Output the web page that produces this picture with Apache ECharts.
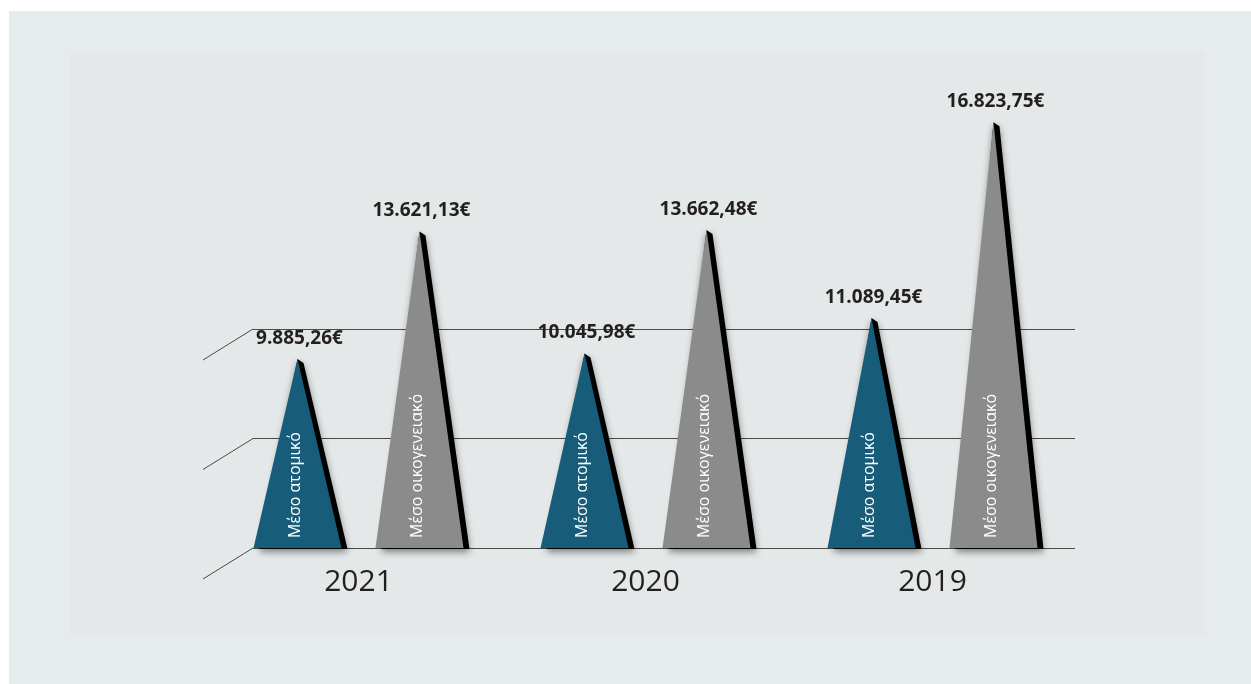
<!DOCTYPE html>
<html>
<head>
<meta charset="utf-8">
<script src="https://cdn.jsdelivr.net/npm/echarts@6/dist/echarts.min.js"></script>
<style>html,body{margin:0;padding:0;background:#fff;}#c{width:1251px;height:684px;}</style>
</head>
<body>
<div id="c"></div>
<script>
const years = ['2021', '2020', '2019'];
const individual = [9885.26, 10045.98, 11089.45];
const family = [13621.13, 13662.48, 16823.75];
const seriesNames = ['Μέσο ατομικό', 'Μέσο οικογενειακό'];
const gridLevels = [0, 1, 2];

const Y_MIN = 4350, Y_MAX = 18000;

function fmt(v) {
  const parts = v.toFixed(2).split('.');
  parts[0] = parts[0].replace(/\B(?=(\d{3})+(?!\d))/g, '.');
  return parts[0] + ',' + parts[1] + '€';
}

function makeRender(offsetFrac, color, name) {
  return function (params, api) {
    const ci = api.value(0), v = api.value(1);
    const band = api.size([1, 0])[0];
    const top = api.coord([ci, v]);
    const base = api.coord([ci, Y_MIN]);
    const ax = top[0] + offsetFrac * band, ay = top[1], by = base[1];
    const hw = 44;
    return {
      type: 'group',
      children: [
        { type: 'polygon', shape: { points: [[ax - hw + 6, by + 1], [ax, ay], [ax + 6, ay + 4], [ax + hw + 6, by + 1]] },
          style: { fill: '#000', shadowBlur: 7, shadowColor: 'rgba(0,0,0,0.45)', shadowOffsetY: 3 } },
        { type: 'polygon', shape: { points: [[ax - hw, by], [ax, ay], [ax + hw, by]] }, style: { fill: color } },
        { type: 'text', x: ax - 2, y: by - 10, rotation: Math.PI / 2,
          style: { text: name, fill: '#ffffff', font: '16px "Open Sans"', align: 'left', verticalAlign: 'middle', textAlign: 'left', textVerticalAlign: 'middle' } },
        { type: 'text', x: ax + 2, y: ay - 11,
          style: { text: fmt(v), fill: '#231f20', font: 'bold 19px "Open Sans"', align: 'center', verticalAlign: 'bottom', textAlign: 'center', textVerticalAlign: 'bottom' } }
      ]
    };
  };
}

function diagRender(params, api) {
  const p = api.coord([0, api.value(1)]);
  return { type: 'line', shape: { x1: p[0], y1: p[1], x2: p[0] - 50, y2: p[1] + 31 }, style: { stroke: '#4a4a4a', lineWidth: 1 } };
}

const chart = echarts.init(document.getElementById('c'));
chart.setOption({
  backgroundColor: '#ffffff',
  animation: false,
  graphic: [
    { type: 'rect', z: -100, shape: { x: 9, y: 11, width: 1242, height: 673 }, style: { fill: '#e6ebeb' } },
    { type: 'rect', z: -99, shape: { x: 70, y: 52, width: 1135, height: 583 }, style: { fill: '#e4e8e8' } }
  ],
  grid: [
    { left: 253, right: 176, top: 329, bottom: 136 },
    { left: 215, right: 175, top: 82, bottom: 136 }
  ],
  xAxis: [
    { gridIndex: 0, type: 'value', min: 0, max: 1, show: false },
    { gridIndex: 1, type: 'category', data: years,
      axisLine: { show: false }, axisTick: { show: false },
      axisLabel: { fontSize: 30, color: '#231f20', fontFamily: 'Open Sans', margin: 19 } }
  ],
  yAxis: [
    { gridIndex: 0, type: 'value', min: 0, max: 2, interval: 1,
      axisLine: { show: false }, axisTick: { show: false }, axisLabel: { show: false },
      splitLine: { show: true, lineStyle: { color: '#4a4a4a', width: 1 } } },
    { gridIndex: 1, type: 'value', min: Y_MIN, max: Y_MAX, show: false, splitLine: { show: false } }
  ],
  series: [
    { type: 'custom', xAxisIndex: 0, yAxisIndex: 0, renderItem: diagRender,
      data: gridLevels.map(v => [0, v]), silent: true },
    { name: seriesNames[0], type: 'custom', xAxisIndex: 1, yAxisIndex: 1,
      renderItem: makeRender(-0.2125, '#175d7a', seriesNames[0]),
      data: years.map((y, i) => [i, individual[i]]) },
    { name: seriesNames[1], type: 'custom', xAxisIndex: 1, yAxisIndex: 1,
      renderItem: makeRender(0.2125, '#8b8b8b', seriesNames[1]),
      data: years.map((y, i) => [i, family[i]]) }
  ]
});
</script>
</body>
</html>
